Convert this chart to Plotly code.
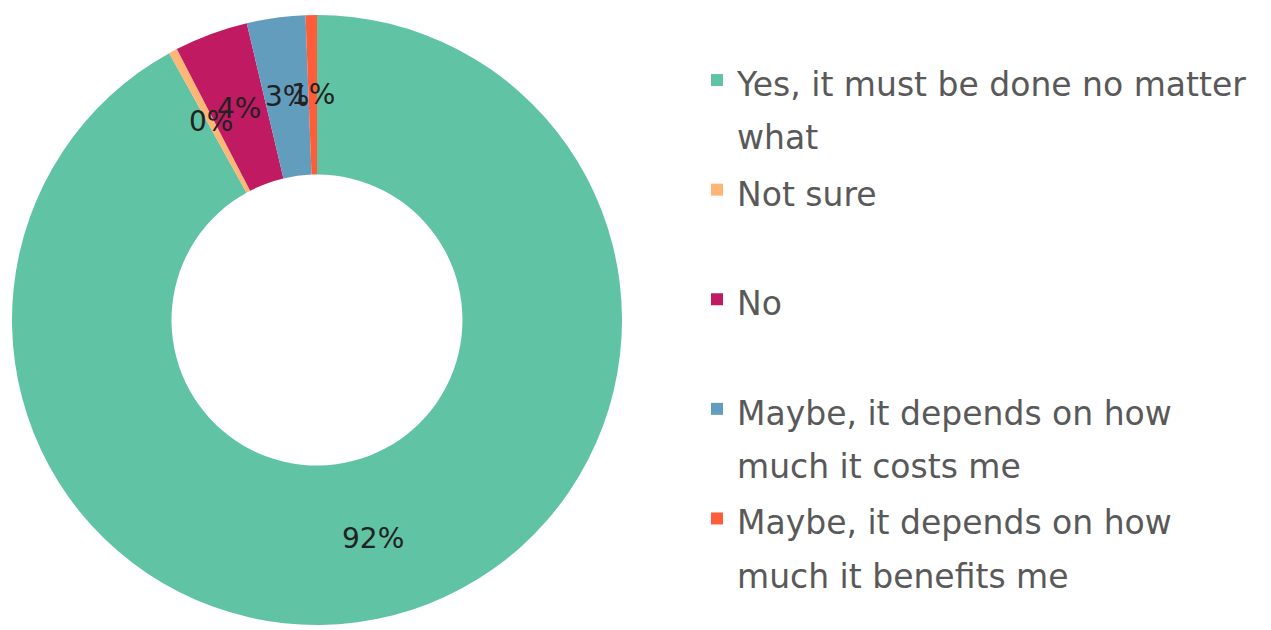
import math
import plotly.graph_objects as go

# Data
labels = [
    "Yes, it must be done no matter<br>what",
    "Not sure<br> ",
    "No<br> ",
    "Maybe, it depends on how<br>much it costs me",
    "Maybe, it depends on how<br>much it benefits me",
]
values = [91.95, 0.45, 3.9, 3.1, 0.6]
colors = ["#60C3A4", "#FDB676", "#BF1A62", "#629DBD", "#FF5C3A"]

W, H = 1271, 630
M_T, M_B = 15, 5
PIE_LEFT, PIE_SIZE = 12, 610
HOLE = 0.477

LEG_TXT = 33
legend_labels = [
    "<br>".join(f"<span style='font-size:{LEG_TXT}px'>{part}</span>" for part in lab.split("<br>"))
    for lab in labels
]

pie_dom_x = [PIE_LEFT / W, (PIE_LEFT + PIE_SIZE) / W]

fig = go.Figure(
    go.Pie(
        labels=legend_labels,
        values=values,
        hole=HOLE,
        sort=False,
        direction="clockwise",
        rotation=0,
        marker=dict(colors=colors, line=dict(width=0)),
        textinfo="none",
        domain=dict(x=pie_dom_x, y=[0, 1]),
        hoverinfo="label+percent",
    )
)

# percentage labels at the middle of the ring, placed through hidden axes
total = sum(values)
r_mid = (1 + HOLE) / 2
cum = 0.0
annotations = []
for v in values:
    mid = (cum + v / 2) / total * 2 * math.pi
    cum += v
    annotations.append(
        dict(
            x=r_mid * math.sin(mid),
            y=r_mid * math.cos(mid),
            xref="x",
            yref="y",
            text=f"{v / total * 100:.0f}%",
            showarrow=False,
            xanchor="center",
            yanchor="middle",
            font=dict(family="DejaVu Sans", size=28, color="#222222"),
        )
    )

fig.update_layout(
    width=W,
    height=H,
    margin=dict(l=0, r=0, t=M_T, b=M_B),
    paper_bgcolor="white",
    plot_bgcolor="rgba(0,0,0,0)",
    xaxis=dict(domain=pie_dom_x, range=[-1, 1], visible=False, fixedrange=True),
    yaxis=dict(domain=[0, 1], range=[-1, 1], visible=False, fixedrange=True),
    annotations=annotations,
    showlegend=True,
    legend=dict(
        x=697 / W,
        xanchor="left",
        y=0.9477,
        yanchor="top",
        valign="top",
        font=dict(family="DejaVu Sans", size=41, color="#595959"),
        bgcolor="rgba(0,0,0,0)",
        traceorder="normal",
    ),
)

fig.write_html(
    "out.html",
    config={"displayModeBar": False},
    post_script="document.body.style.margin='0';",
)
